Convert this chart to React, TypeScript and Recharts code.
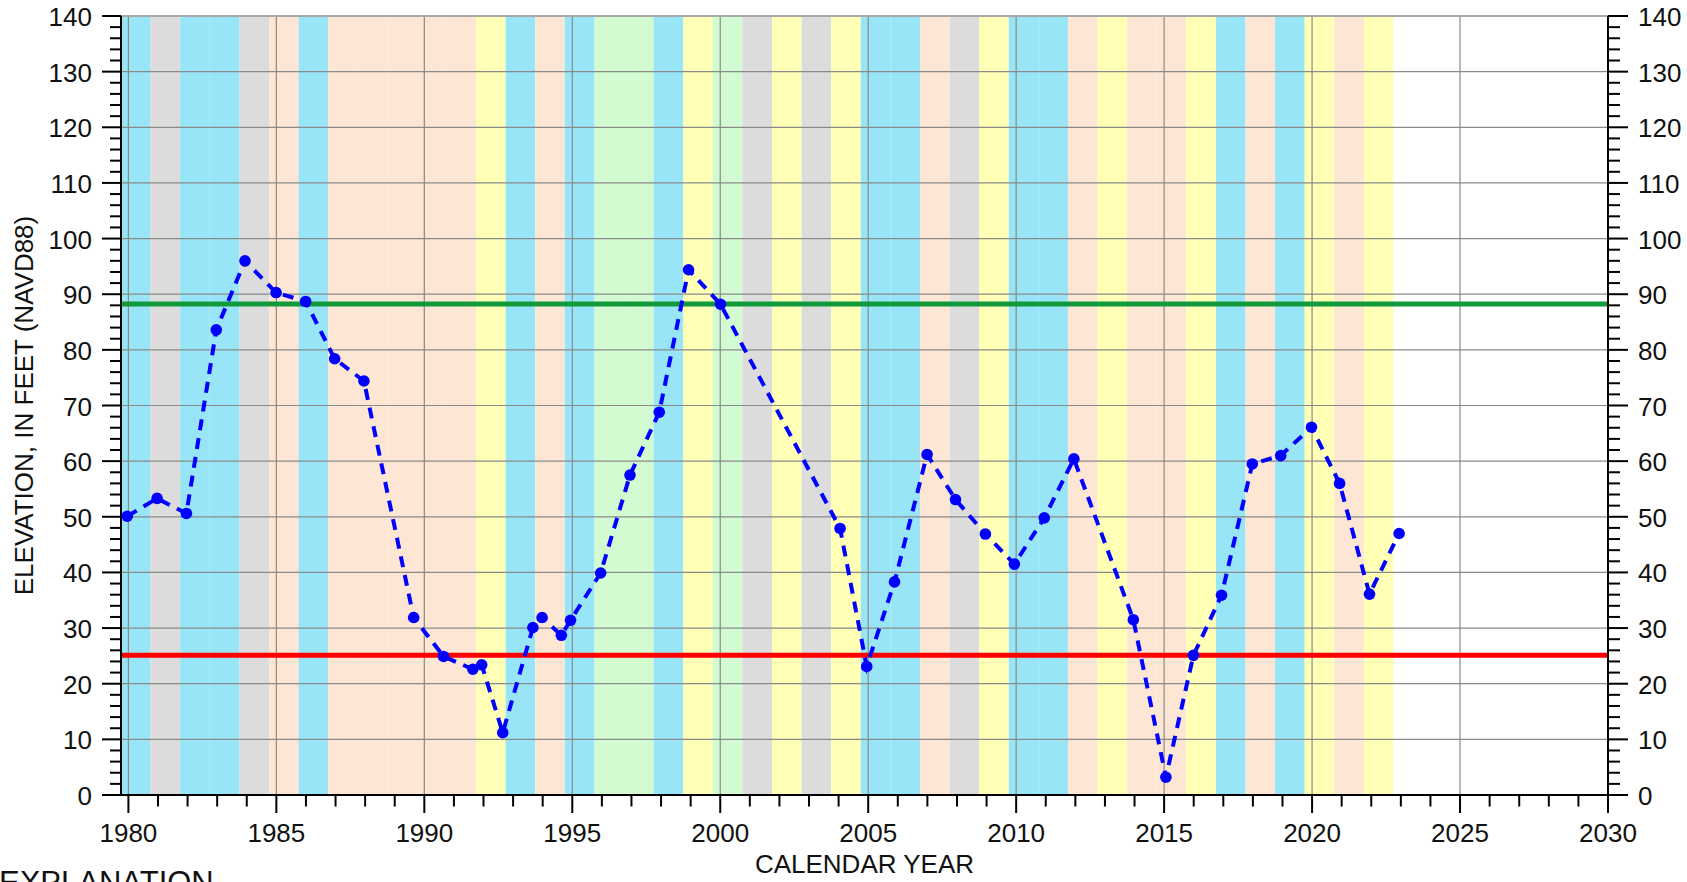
import React from 'react'
import { ComposedChart, Line, XAxis, YAxis, ReferenceArea, ReferenceLine, Label } from 'recharts'

// measured lake elevation, fractional calendar year
const measYears = [
  1979.96, 1980.97, 1981.96, 1982.97, 1983.94, 1984.99, 1985.99, 1986.97, 1987.96,
  1989.64, 1990.65, 1991.64, 1991.94, 1992.65, 1993.67, 1993.98, 1994.63, 1994.94,
  1995.96, 1996.95, 1997.94, 1998.93, 2000.01, 2004.05, 2004.95, 2005.89, 2006.99,
  2007.95, 2008.96, 2009.94, 2010.95, 2011.95, 2013.96, 2015.06, 2015.99, 2016.94,
  2017.98, 2018.94, 2019.98, 2020.93, 2021.94, 2022.94,
]
const measElev = [
  50.1, 53.3, 50.6, 83.6, 96.0, 90.3, 88.7, 78.4, 74.4,
  31.9, 24.9, 22.6, 23.4, 11.2, 30.1, 31.9, 28.7, 31.4,
  39.9, 57.5, 68.8, 94.4, 88.2, 47.9, 23.1, 38.3, 61.2,
  53.1, 46.9, 41.5, 49.8, 60.4, 31.5, 3.2, 25.1, 35.9,
  59.5, 61.0, 66.1, 56.0, 36.1, 47.0,
]

// water-year classification shading (Oct 1 - Sep 30)
const waterYears = [
  1980, 1981, 1982, 1983, 1984, 1985, 1986, 1987, 1988, 1989, 1990,
  1991, 1992, 1993, 1994, 1995, 1996, 1997, 1998, 1999, 2000, 2001,
  2002, 2003, 2004, 2005, 2006, 2007, 2008, 2009, 2010, 2011, 2012,
  2013, 2014, 2015, 2016, 2017, 2018, 2019, 2020, 2021, 2022,
]
const yearTypes = [
  'W', 'C', 'W', 'W', 'C', 'D', 'W', 'D', 'D', 'D', 'D',
  'D', 'BN', 'W', 'D', 'W', 'AN', 'AN', 'W', 'BN', 'AN', 'C',
  'BN', 'C', 'BN', 'W', 'W', 'D', 'C', 'BN', 'W', 'W', 'D',
  'BN', 'D', 'D', 'BN', 'W', 'D', 'W', 'BN', 'D', 'BN',
]
const typeColors: Record<string, string> = {
  W: '#98e5f7',
  AN: '#d3fbd1',
  BN: '#ffffb6',
  D: '#fde6d3',
  C: '#dcdcdc',
}

const upperLevel = 88.25
const lowerLevel = 25.1

const xLabels = [1980, 1985, 1990, 1995, 2000, 2005, 2010, 2015, 2020, 2025, 2030]
const yLabels = [0, 10, 20, 30, 40, 50, 60, 70, 80, 90, 100, 110, 120, 130, 140]

const xTicks = Array.from({ length: 51 }, (_, i) => 1980 + i)
const yTicks = Array.from({ length: 71 }, (_, i) => i * 2)

const data = measYears.map((year, i) => ({ year, elev: measElev[i] }))

const font = { fontFamily: '"Liberation Sans", Arial, sans-serif', fontSize: 26, fill: '#111' }

function BottomTick(props: any) {
  const { x, y, payload } = props
  const major = payload.value % 5 === 0
  return (
    <g>
      <line x1={x} x2={x} y1={y} y2={y + (major ? 18 : 11.5)} stroke="#000" strokeWidth={2} />
      {major && (
        <text x={x} y={y + 47} textAnchor="middle" style={font}>
          {payload.value}
        </text>
      )}
    </g>
  )
}

function LeftTick(props: any) {
  const { x, y, payload } = props
  const major = payload.value % 10 === 0
  return (
    <g>
      <line x1={x} x2={x - (major ? 19 : 11)} y1={y} y2={y} stroke="#000" strokeWidth={2} />
      {major && (
        <text x={x - 29} y={y + 10} textAnchor="end" style={font}>
          {payload.value}
        </text>
      )}
    </g>
  )
}

function RightTick(props: any) {
  const { x, y, payload } = props
  const major = payload.value % 10 === 0
  return (
    <g>
      <line x1={x} x2={x + (major ? 20 : 12)} y1={y} y2={y} stroke="#000" strokeWidth={2} />
      {major && (
        <text x={x + 30} y={y + 10} textAnchor="start" style={font}>
          {payload.value}
        </text>
      )}
    </g>
  )
}

function Dot(props: any) {
  const { cx, cy, index } = props
  return <circle key={index} cx={cx} cy={cy} r={5.8} fill="#0000ff" />
}

export default function App() {
  return (
    <div style={{ position: 'absolute', left: 0, top: 0, width: 1687, height: 882, overflow: 'hidden', background: '#fff' }}>
      <ComposedChart width={1687} height={882} data={data} margin={{ top: 16, right: 0, bottom: 0, left: 0 }}>
        {waterYears.map((wy, i) => (
          <ReferenceArea
            key={wy}
            yAxisId="left"
            x1={wy - 0.25}
            x2={wy + 0.75}
            fill={typeColors[yearTypes[i]]}
            fillOpacity={1}
            stroke="none"
            ifOverflow="hidden"
          />
        ))}
        {xLabels.slice(0, -1).map((v) => (
          <ReferenceLine key={'gx' + v} yAxisId="left" x={v} stroke="#8a8a8a" strokeWidth={1.2} />
        ))}
        {yLabels.slice(1, -1).map((v) => (
          <ReferenceLine key={'gy' + v} yAxisId="left" y={v} stroke="#8a8a8a" strokeWidth={1.2} />
        ))}
        <ReferenceLine yAxisId="left" y={140} stroke="#a8a8a8" strokeWidth={2} />
        <ReferenceLine yAxisId="left" y={upperLevel} stroke="#119a3b" strokeWidth={5} />
        <ReferenceLine yAxisId="left" y={lowerLevel} stroke="#ff0000" strokeWidth={5} />
        <Line
          yAxisId="left"
          dataKey="elev"
          stroke="#0000ff"
          strokeWidth={4}
          strokeDasharray="11 8"
          dot={Dot}
          activeDot={false}
          isAnimationActive={false}
        />
        <XAxis
          dataKey="year"
          type="number"
          domain={[1979.75, 2030]}
          ticks={xTicks}
          interval={0}
          allowDataOverflow
          height={87}
          tickSize={0}
          tickMargin={0}
          tickLine={false}
          axisLine={{ stroke: '#000', strokeWidth: 2 }}
          tick={BottomTick}
        >
          <Label
            content={(p: any) => (
              <text x={p.viewBox.x + p.viewBox.width / 2} y={p.viewBox.y + 78} textAnchor="middle" style={font}>
                CALENDAR YEAR
              </text>
            )}
          />
          <Label
            content={() => (
              <text x={-1} y={893} textAnchor="start" style={{ ...font, fontSize: 31 }}>
                EXPLANATION
              </text>
            )}
          />
        </XAxis>
        <YAxis
          yAxisId="left"
          type="number"
          domain={[0, 140]}
          ticks={yTicks}
          interval={0}
          allowDataOverflow
          width={121}
          tickSize={0}
          tickMargin={0}
          tickLine={false}
          axisLine={{ stroke: '#000', strokeWidth: 2 }}
          tick={LeftTick}
        >
          <Label
            content={(p: any) => {
              const cy = p.viewBox.y + p.viewBox.height / 2
              return (
                <text x={33} y={cy} transform={`rotate(-90, 33, ${cy})`} textAnchor="middle" style={font}>
                  ELEVATION, IN FEET (NAVD88)
                </text>
              )
            }}
          />
        </YAxis>
        <YAxis
          yAxisId="right"
          orientation="right"
          type="number"
          domain={[0, 140]}
          ticks={yTicks}
          interval={0}
          allowDataOverflow
          width={79}
          tickSize={0}
          tickMargin={0}
          tickLine={false}
          axisLine={{ stroke: '#000', strokeWidth: 2 }}
          tick={RightTick}
        />
      </ComposedChart>
    </div>
  )
}
